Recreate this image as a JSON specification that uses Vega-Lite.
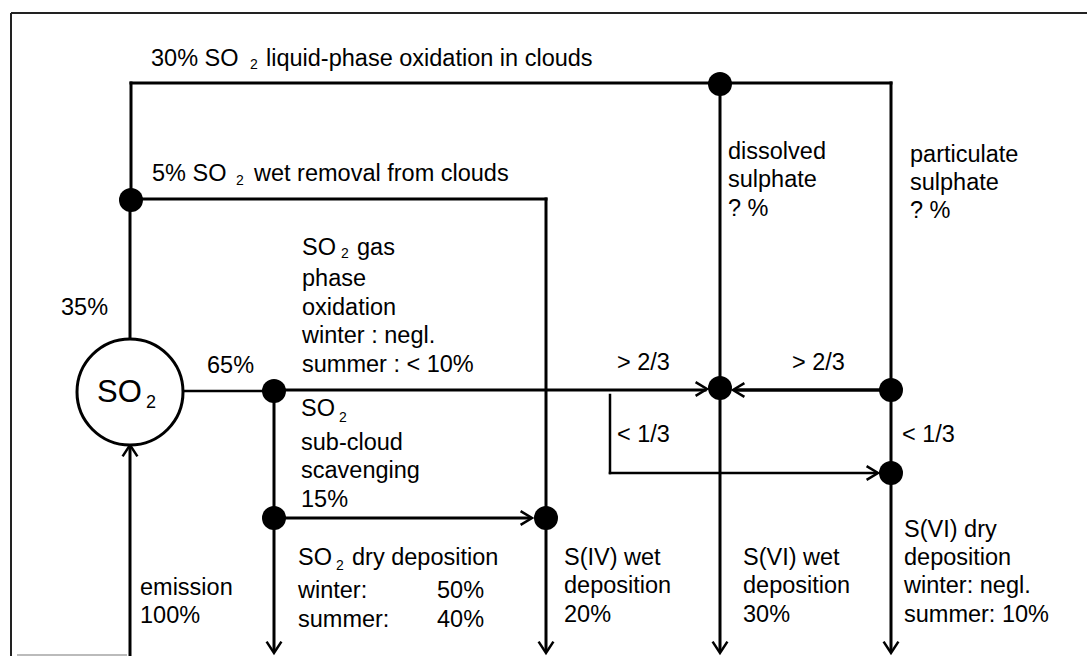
{
  "$schema": "https://vega.github.io/schema/vega-lite/v6.json",
  "width": 1087,
  "height": 656,
  "padding": 0,
  "autosize": {"type": "none"},
  "background": "white",
  "config": {"view": {"stroke": null}},
  "datasets": {
    "frame": [
      {"x": 11, "y": 13, "x2": 11, "y2": 656, "edge": "outer"},
      {"x": 11, "y": 13, "x2": 1087, "y2": 13, "edge": "outer"},
      {"x": 17, "y": 655, "x2": 127, "y2": 655, "edge": "inner"}
    ],
    "lines": [
      {"x": 131, "y": 83, "x2": 891, "y2": 83, "weight": "normal"},
      {"x": 131, "y": 83, "x2": 131, "y2": 200, "weight": "normal"},
      {"x": 131, "y": 199, "x2": 546, "y2": 199, "weight": "normal"},
      {"x": 130, "y": 200, "x2": 130, "y2": 340, "weight": "normal"},
      {"x": 546, "y": 199, "x2": 546, "y2": 650, "weight": "normal"},
      {"x": 720, "y": 83, "x2": 720, "y2": 650, "weight": "normal"},
      {"x": 891, "y": 83, "x2": 891, "y2": 650, "weight": "normal"},
      {"x": 274, "y": 391, "x2": 274, "y2": 650, "weight": "normal"},
      {"x": 274, "y": 390, "x2": 705, "y2": 390, "weight": "normal"},
      {"x": 274, "y": 518, "x2": 529, "y2": 518, "weight": "normal"},
      {"x": 130, "y": 448, "x2": 130, "y2": 656, "weight": "normal"},
      {"x": 184, "y": 391, "x2": 274, "y2": 391, "weight": "thin"},
      {"x": 610, "y": 395, "x2": 610, "y2": 473, "weight": "thin"},
      {"x": 610, "y": 473, "x2": 876, "y2": 473, "weight": "thin"},
      {"x": 736, "y": 390, "x2": 886, "y2": 390, "weight": "thick"}
    ],
    "arrows": [
      {"x": 130, "y": 445, "dir": "up"},
      {"x": 707, "y": 389, "dir": "right"},
      {"x": 733, "y": 390, "dir": "left"},
      {"x": 878, "y": 473, "dir": "right"},
      {"x": 532, "y": 518, "dir": "right"},
      {"x": 274, "y": 653, "dir": "down"},
      {"x": 546, "y": 653, "dir": "down"},
      {"x": 720, "y": 653, "dir": "down"},
      {"x": 891, "y": 653, "dir": "down"}
    ],
    "nodes": [
      {"x": 131, "y": 200},
      {"x": 720, "y": 84},
      {"x": 274, "y": 391},
      {"x": 274, "y": 518},
      {"x": 546, "y": 518},
      {"x": 720, "y": 388},
      {"x": 891, "y": 390},
      {"x": 891, "y": 473}
    ],
    "pool": [{"x": 130, "y": 392, "name": "SO2"}],
    "labels": [
      {"x": 151, "y": 66, "text": "30% SO"},
      {"x": 266, "y": 66, "text": "liquid-phase oxidation in clouds"},
      {"x": 152, "y": 181, "text": "5% SO"},
      {"x": 254, "y": 181, "text": "wet removal from clouds"},
      {"x": 61, "y": 315, "text": "35%"},
      {"x": 207, "y": 373, "text": "65%"},
      {"x": 302, "y": 255, "text": "SO"},
      {"x": 357, "y": 255, "text": "gas"},
      {"x": 302, "y": 286, "text": "phase"},
      {"x": 302, "y": 315, "text": "oxidation"},
      {"x": 302, "y": 343, "text": "winter : negl."},
      {"x": 302, "y": 372, "text": "summer : < 10%"},
      {"x": 301, "y": 416, "text": "SO"},
      {"x": 301, "y": 450, "text": "sub-cloud"},
      {"x": 301, "y": 478, "text": "scavenging"},
      {"x": 301, "y": 507, "text": "15%"},
      {"x": 298, "y": 565, "text": "SO"},
      {"x": 352, "y": 565, "text": "dry deposition"},
      {"x": 298, "y": 598, "text": "winter:"},
      {"x": 437, "y": 598, "text": "50%"},
      {"x": 298, "y": 627, "text": "summer:"},
      {"x": 437, "y": 627, "text": "40%"},
      {"x": 140, "y": 595, "text": "emission"},
      {"x": 140, "y": 623, "text": "100%"},
      {"x": 564, "y": 565, "text": "S(IV) wet"},
      {"x": 564, "y": 593, "text": "deposition"},
      {"x": 564, "y": 622, "text": "20%"},
      {"x": 743, "y": 565, "text": "S(VI) wet"},
      {"x": 743, "y": 593, "text": "deposition"},
      {"x": 743, "y": 622, "text": "30%"},
      {"x": 904, "y": 537, "text": "S(VI) dry"},
      {"x": 904, "y": 565, "text": "deposition"},
      {"x": 904, "y": 593, "text": "winter: negl."},
      {"x": 904, "y": 622, "text": "summer: 10%"},
      {"x": 617, "y": 370, "text": "> 2/3"},
      {"x": 792, "y": 370, "text": "> 2/3"},
      {"x": 617, "y": 442, "text": "< 1/3"},
      {"x": 902, "y": 442, "text": "< 1/3"},
      {"x": 728, "y": 159, "text": "dissolved"},
      {"x": 728, "y": 187, "text": "sulphate"},
      {"x": 728, "y": 216, "text": "? %"},
      {"x": 910, "y": 162, "text": "particulate"},
      {"x": 910, "y": 190, "text": "sulphate"},
      {"x": 910, "y": 218, "text": "? %"}
    ],
    "subscripts": [
      {"x": 250, "y": 69, "text": "2"},
      {"x": 236, "y": 185, "text": "2"},
      {"x": 341, "y": 258, "text": "2"},
      {"x": 339, "y": 422, "text": "2"},
      {"x": 336, "y": 570, "text": "2"}
    ],
    "poolLabel": [{"x": 97, "y": 402, "text": "SO"}],
    "poolSub": [{"x": 146, "y": 408, "text": "2"}]
  },
  "layer": [
    {
      "data": {"name": "frame"},
      "mark": {"type": "rule", "strokeWidth": 2},
      "encoding": {
        "x": {"field": "x", "type": "quantitative", "scale": {"domain": [0, 1087], "nice": false, "zero": false}, "axis": null},
        "y": {"field": "y", "type": "quantitative", "scale": {"domain": [0, 656], "nice": false, "zero": false, "reverse": true}, "axis": null},
        "x2": {"field": "x2"},
        "y2": {"field": "y2"},
        "color": {"field": "edge", "type": "nominal", "scale": {"domain": ["outer", "inner"], "range": ["#222222", "#bbbbbb"]}, "legend": null}
      }
    },
    {
      "data": {"name": "lines"},
      "mark": {"type": "rule", "color": "black", "strokeCap": "square"},
      "encoding": {
        "x": {"field": "x", "type": "quantitative"},
        "y": {"field": "y", "type": "quantitative"},
        "x2": {"field": "x2"},
        "y2": {"field": "y2"},
        "strokeWidth": {"field": "weight", "type": "nominal", "scale": {"domain": ["thin", "normal", "thick"], "range": [2.5, 3.5, 5.5]}, "legend": null}
      }
    },
    {
      "data": {"name": "arrows"},
      "mark": {"type": "point", "filled": false, "color": "black", "strokeWidth": 2.5, "size": 130, "opacity": 1},
      "encoding": {
        "x": {"field": "x", "type": "quantitative"},
        "y": {"field": "y", "type": "quantitative"},
        "shape": {"field": "dir", "type": "nominal", "scale": {"domain": ["up", "down", "left", "right"], "range": ["M-1.3,2L0,0L1.3,2", "M-1.3,-2L0,0L1.3,-2", "M2,-1.2L0,0L2,1.2", "M-2,-1.2L0,0L-2,1.2"]}, "legend": null}
      }
    },
    {
      "data": {"name": "nodes"},
      "mark": {"type": "point", "shape": "circle", "filled": true, "color": "black", "size": 576, "opacity": 1},
      "encoding": {
        "x": {"field": "x", "type": "quantitative"},
        "y": {"field": "y", "type": "quantitative"}
      }
    },
    {
      "data": {"name": "pool"},
      "mark": {"type": "point", "shape": "circle", "filled": false, "fill": "white", "fillOpacity": 1, "stroke": "black", "strokeWidth": 3, "size": 11236, "opacity": 1},
      "encoding": {
        "x": {"field": "x", "type": "quantitative"},
        "y": {"field": "y", "type": "quantitative"}
      }
    },
    {
      "data": {"name": "labels"},
      "mark": {"type": "text", "align": "left", "baseline": "alphabetic", "font": "Liberation Sans", "fontSize": 23.5, "color": "black"},
      "encoding": {
        "x": {"field": "x", "type": "quantitative"},
        "y": {"field": "y", "type": "quantitative"},
        "text": {"field": "text"}
      }
    },
    {
      "data": {"name": "subscripts"},
      "mark": {"type": "text", "align": "left", "baseline": "alphabetic", "font": "Liberation Sans", "fontSize": 14, "color": "black"},
      "encoding": {
        "x": {"field": "x", "type": "quantitative"},
        "y": {"field": "y", "type": "quantitative"},
        "text": {"field": "text"}
      }
    },
    {
      "data": {"name": "poolLabel"},
      "mark": {"type": "text", "align": "left", "baseline": "alphabetic", "font": "Liberation Sans", "fontSize": 31, "color": "black"},
      "encoding": {
        "x": {"field": "x", "type": "quantitative"},
        "y": {"field": "y", "type": "quantitative"},
        "text": {"field": "text"}
      }
    },
    {
      "data": {"name": "poolSub"},
      "mark": {"type": "text", "align": "left", "baseline": "alphabetic", "font": "Liberation Sans", "fontSize": 18, "color": "black"},
      "encoding": {
        "x": {"field": "x", "type": "quantitative"},
        "y": {"field": "y", "type": "quantitative"},
        "text": {"field": "text"}
      }
    }
  ]
}
